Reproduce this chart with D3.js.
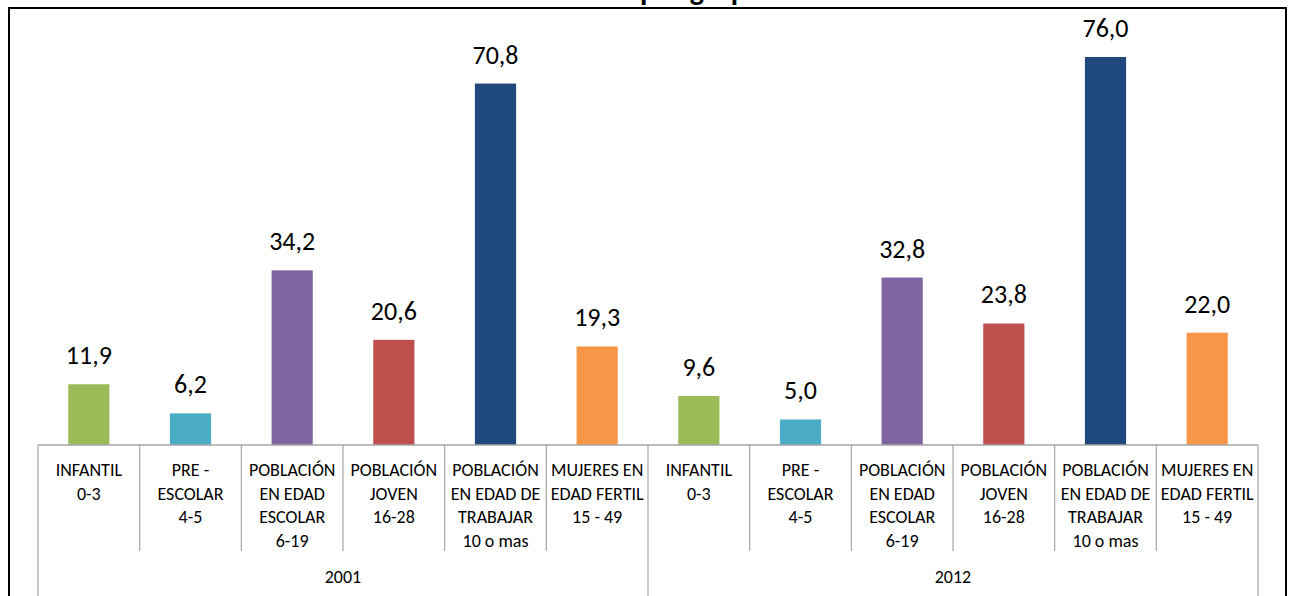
<!DOCTYPE html>
<html><head><meta charset="utf-8">
<script src="https://cdn.jsdelivr.net/npm/d3@7"></script>
<style>
html,body{margin:0;padding:0;background:#fff;}
svg{display:block;}
text{font-family:Carlito,"Liberation Sans Narrow","Open Sans",sans-serif;}
</style></head>
<body><svg id="c" width="1290" height="596"></svg>
<script>
const title = "Gráfico N° 1: Población por grupos funcionales de edad";
const years = ["2001", "2012"];
const categories = [
  ["INFANTIL", "0-3"],
  ["PRE -", "ESCOLAR", "4-5"],
  ["POBLACIÓN", "EN EDAD", "ESCOLAR", "6-19"],
  ["POBLACIÓN", "JOVEN", "16-28"],
  ["POBLACIÓN", "EN EDAD DE", "TRABAJAR", "10 o mas"],
  ["MUJERES EN", "EDAD FERTIL", "15 - 49"]
];
const values2001 = [11.9, 6.2, 34.2, 20.6, 70.8, 19.3];
const values2012 = [9.6, 5.0, 32.8, 23.8, 76.0, 22.0];
const colors = ["#9BBB59", "#4BACC6", "#8064A2", "#C0504D", "#1F497D", "#F79646"];

const seriesByYear = [values2001, values2012];
const data = [];
years.forEach((y, yi) => categories.forEach((c, ci) => data.push({year: y, yi, ci, label: c, value: seriesByYear[yi][ci], key: yi + "-" + ci})));

const svg = d3.select("#c");
const x0 = 38, x1 = 1258, y0 = 445;
const x = d3.scaleBand().domain(data.map(d => d.key)).range([x0, x1]).padding(0);
const y = d3.scaleLinear().domain([0, 76]).range([y0, y0 - 388]);
const bw = x.bandwidth() * 0.405;

// frame
svg.append("rect").attr("x", 9).attr("y", 8).attr("width", 1277).attr("height", 620)
  .attr("fill", "none").attr("stroke", "#000").attr("stroke-width", 2);

// title (cut off at the top, as in the reference)
svg.append("text").attr("x", 690).attr("y", 0).attr("text-anchor", "middle")
  .attr("font-weight", "bold").attr("font-size", 30).attr("fill", "#000").text(title);

// bars
svg.selectAll("rect.bar").data(data).join("rect").attr("class", "bar")
  .attr("x", d => x(d.key) + x.bandwidth() / 2 - bw / 2)
  .attr("y", d => y(d.value)).attr("width", bw)
  .attr("height", d => y(0) - y(d.value)).attr("fill", d => colors[d.ci]);

// value labels
svg.selectAll("text.val").data(data).join("text").attr("class", "val")
  .attr("x", d => x(d.key) + x.bandwidth() / 2).attr("y", d => y(d.value) - 20)
  .attr("text-anchor", "middle").attr("font-size", 26).attr("fill", "#000")
  .text(d => d3.format(".1f")(d.value).replace(".", ","));

// axis line
svg.append("line").attr("x1", x0).attr("x2", x1).attr("y1", y0).attr("y2", y0)
  .attr("stroke", "#a6a6a6").attr("stroke-width", 1.5);

// category ticks
const ticks = d3.range(0, data.length + 1).map(i => x0 + i * x.step());
ticks.forEach((t, i) => {
  const isGroup = (i % categories.length === 0);
  svg.append("line").attr("x1", t).attr("x2", t).attr("y1", y0).attr("y2", isGroup ? 600 : 551)
    .attr("stroke", "#a6a6a6").attr("stroke-width", 1.2);
});

// category labels
data.forEach(d => {
  const cx = x(d.key) + x.bandwidth() / 2;
  const t = svg.append("text").attr("text-anchor", "middle").attr("font-size", 18).attr("fill", "#000");
  d.label.forEach((line, li) => t.append("tspan").attr("x", cx).attr("y", 476 + li * 23.7).text(line));
});

// year labels
years.forEach((yr, yi) => {
  const a = ticks[yi * categories.length], b = ticks[(yi + 1) * categories.length];
  svg.append("text").attr("x", (a + b) / 2).attr("y", 583).attr("text-anchor", "middle")
    .attr("font-size", 18).attr("fill", "#000").text(yr);
});
</script></body></html>
